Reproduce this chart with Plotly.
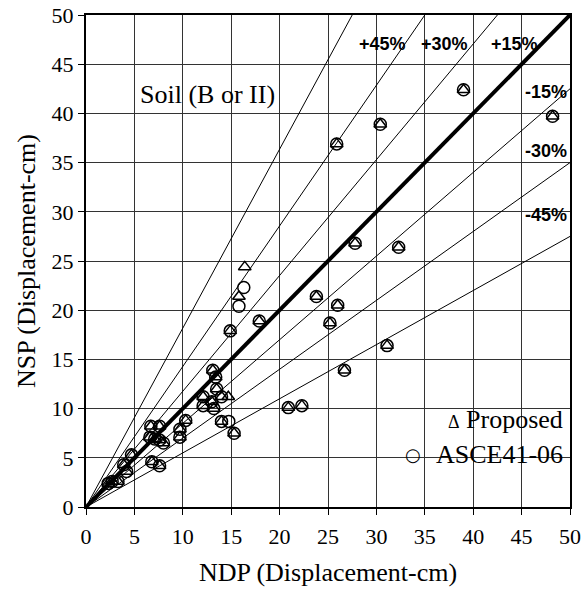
import plotly.graph_objects as go

# ---- data (cm) ----
proposed_x = [39.0, 30.4, 25.9, 48.2, 32.3, 27.8, 23.8, 26.0, 25.2, 26.7, 31.1, 20.9, 22.3,
              17.9, 14.9, 13.1, 13.4, 13.5, 12.1, 14.0, 13.0, 12.1, 13.2, 14.0, 15.3,
              10.3, 9.7, 9.7, 7.6, 6.7, 7.6, 8.0, 7.1, 6.6, 6.8, 7.6, 4.7, 3.9, 4.2, 3.3, 2.7, 2.3,
              16.4, 15.8, 14.7]
proposed_y = [42.4, 38.9, 36.9, 39.7, 26.4, 26.8, 21.4, 20.5, 18.7, 13.9, 16.4, 10.1, 10.3,
              18.9, 17.9, 13.9, 13.2, 12.0, 11.2, 11.2, 10.7, 10.3, 10.0, 8.7, 7.5,
              8.8, 7.9, 7.1, 8.2, 8.2, 6.8, 6.5, 6.9, 7.1, 4.6, 4.2, 5.3, 4.3, 3.6, 2.6, 2.6, 2.4,
              24.4, 21.4, 11.2]
asce_x = [39.0, 30.4, 25.9, 48.2, 32.3, 27.8, 23.8, 26.0, 25.2, 26.7, 31.1, 20.9, 22.3,
          17.9, 14.9, 13.1, 13.4, 13.5, 12.1, 14.0, 13.0, 12.1, 13.2, 14.0, 15.3,
          10.3, 9.7, 9.7, 7.6, 6.7, 7.6, 8.0, 7.1, 6.6, 6.8, 7.6, 4.7, 3.9, 4.2, 3.3, 2.7, 2.3,
          16.3, 15.8, 14.75]
asce_y = [42.4, 38.9, 36.9, 39.7, 26.4, 26.8, 21.4, 20.5, 18.7, 13.9, 16.4, 10.1, 10.3,
          18.9, 17.9, 13.9, 13.2, 12.0, 11.2, 11.2, 10.7, 10.3, 10.0, 8.7, 7.5,
          8.8, 7.9, 7.1, 8.2, 8.2, 6.8, 6.5, 6.9, 7.1, 4.6, 4.2, 5.3, 4.3, 3.6, 2.6, 2.6, 2.4,
          22.3, 20.4, 8.7]

band_pcts = [15, 30, 45]          # +/- percentage bands
axis_max = 50
tick_vals = [0, 5, 10, 15, 20, 25, 30, 35, 40, 45, 50]

SERIF = "Liberation Serif, Times New Roman, serif"
SANS = "Liberation Sans, Arial, sans-serif"

fig = go.Figure()

# reference lines
line_x = [0, axis_max]
for p in band_pcts:
    f = 1 - p / 100.0
    fig.add_trace(go.Scatter(x=line_x, y=[v / f for v in line_x], mode="lines",
                             line=dict(color="black", width=1), showlegend=False, hoverinfo="skip"))
    fig.add_trace(go.Scatter(x=line_x, y=[v * f for v in line_x], mode="lines",
                             line=dict(color="black", width=1), showlegend=False, hoverinfo="skip"))
fig.add_trace(go.Scatter(x=line_x, y=line_x, mode="lines",
                         line=dict(color="black", width=4), showlegend=False, hoverinfo="skip"))

# data
fig.add_trace(go.Scatter(x=asce_x, y=asce_y, mode="markers", name="ASCE41-06",
                         marker=dict(symbol="circle-open", size=12, color="black",
                                     line=dict(width=1.5, color="black")),
                         showlegend=False))
fig.add_trace(go.Scatter(x=proposed_x, y=proposed_y, mode="markers", name="Proposed",
                         marker=dict(symbol="triangle-up-open", size=11, color="black",
                                     line=dict(width=1.5, color="black")),
                         showlegend=False))

annotations = []
# percentage labels
pct_labels = [("+45%", 30.6, 47.1), ("+30%", 37.05, 47.1), ("+15%", 44.3, 47.1),
              ("-15%", 47.5, 42.2), ("-30%", 47.5, 36.2), ("-45%", 47.5, 29.7)]
for t, x, y in pct_labels:
    annotations.append(dict(x=x, y=y, text=t, showarrow=False, xanchor="center", yanchor="middle",
                            font=dict(family=SANS, size=18, color="black", weight="bold")))
annotations.append(dict(x=12.6, y=41.9, text="Soil (B or II)", showarrow=False,
                        xanchor="center", yanchor="middle",
                        font=dict(family=SERIF, size=26, color="black")))
# legend
annotations.append(dict(x=49.5, y=8.9, text='<span style="font-size:18px">Δ</span> Proposed',
                        showarrow=False, xanchor="right", yanchor="middle",
                        font=dict(family=SERIF, size=26, color="black")))
annotations.append(dict(x=49.5, y=5.3, text="ASCE41-06", showarrow=False,
                        xanchor="right", yanchor="middle",
                        font=dict(family=SERIF, size=26, color="black")))
annotations.append(dict(x=33.8, y=5.3, text="○", showarrow=False,
                        xanchor="center", yanchor="middle",
                        font=dict(family="DejaVu Sans", size=18, color="black")))

axis_common = dict(range=[0, axis_max], tickvals=tick_vals, ticks="outside", ticklen=6,
                   tickwidth=1, tickcolor="black", showgrid=True, gridcolor="#333333",
                   gridwidth=1, zeroline=False, showline=True, linecolor="black", linewidth=2,
                   mirror=True, automargin=False,
                   tickfont=dict(family=SERIF, size=22, color="black"))

fig.update_layout(
    width=585, height=590,
    margin=dict(l=86, r=15, t=15, b=83),
    paper_bgcolor="white", plot_bgcolor="white",
    xaxis=dict(**axis_common, ticklabelstandoff=3,
               title=dict(text="NDP (Displacement-cm)", standoff=14,
                          font=dict(family=SERIF, size=26, color="black"))),
    yaxis=dict(**axis_common,
               title=dict(text="NSP (Displacement-cm)", standoff=8,
                          font=dict(family=SERIF, size=26, color="black"))),
    annotations=annotations,
    showlegend=False,
)

fig.write_html("out.html")
